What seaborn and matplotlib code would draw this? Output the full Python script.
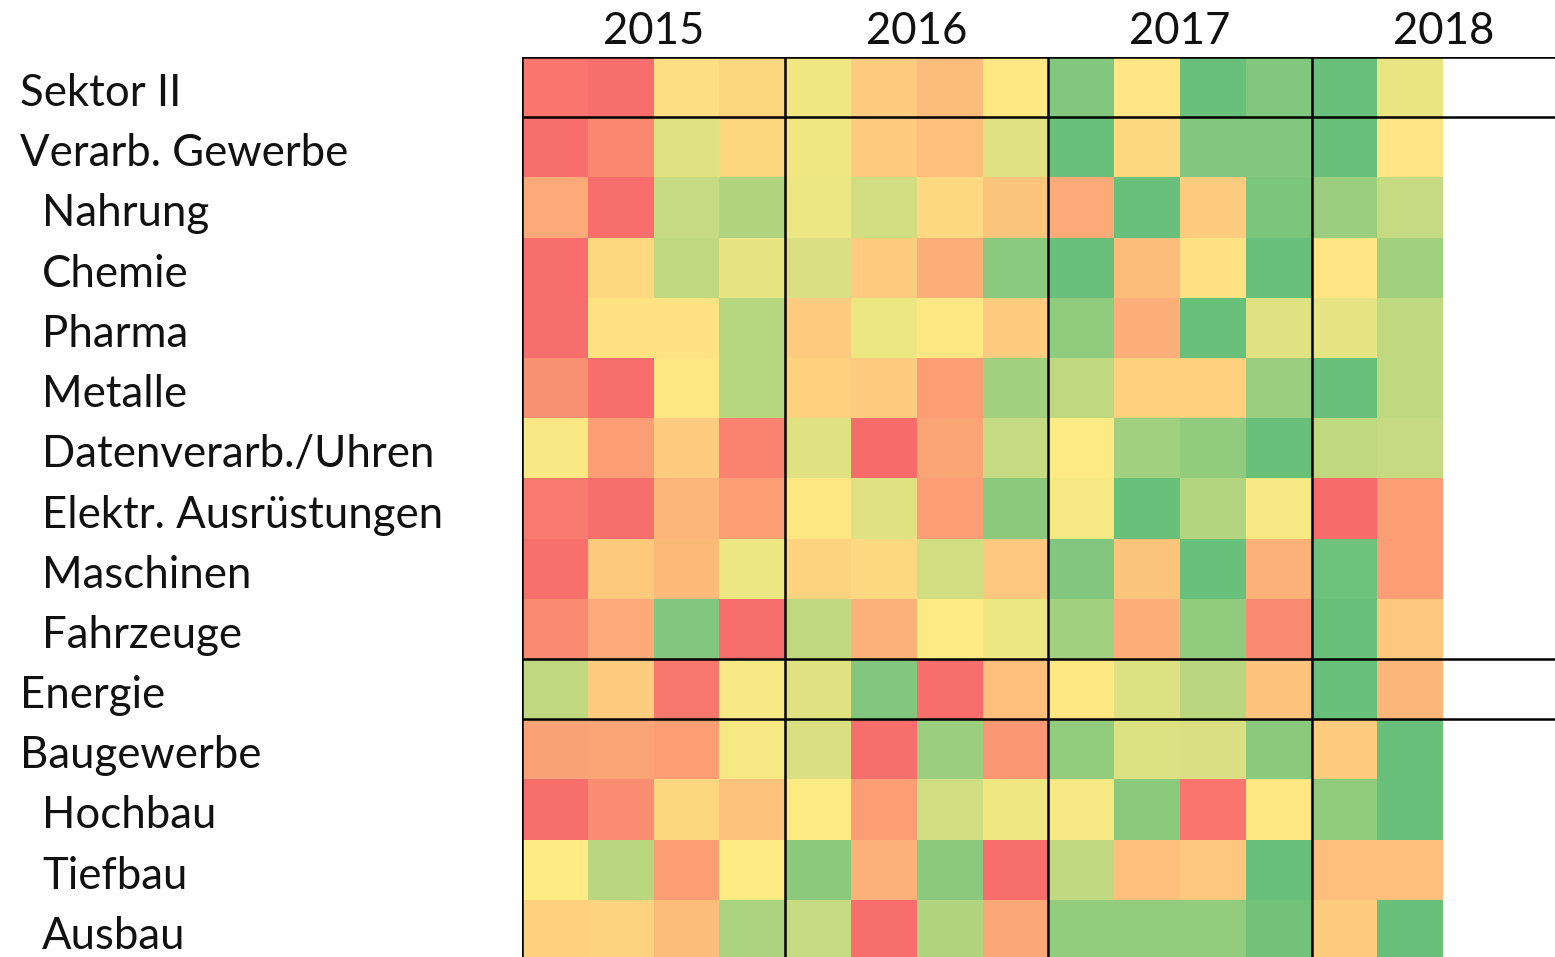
import numpy as np
import pandas as pd
import matplotlib
matplotlib.use("Agg")
import matplotlib.pyplot as plt
import matplotlib.transforms as mtransforms
from matplotlib.colors import LinearSegmentedColormap
import seaborn as sns

# rows and indentation (0 = sector, 1 = sub-branch)
sectors = ["Sektor II", "Verarb. Gewerbe", "Nahrung", "Chemie", "Pharma", "Metalle",
           "Datenverarb./Uhren", "Elektr. Ausrüstungen", "Maschinen", "Fahrzeuge",
           "Energie", "Baugewerbe", "Hochbau", "Tiefbau", "Ausbau"]
indent = [0, 0, 1, 1, 1, 1, 1, 1, 1, 1, 0, 0, 1, 1, 1]
years = ["2015", "2016", "2017", "2018"]
quarters = [f"{y}Q{q}" for y in years for q in range(1, 5)]

# relative scores (0 = red, 0.5 = yellow, 1 = green)
sektor_ii = [0.05, 0.02, 0.45, 0.42, 0.55, 0.38, 0.32, 0.49, 0.90, 0.48, 0.98, 0.90, 0.98, 0.57]
verarb = [0.02, 0.12, 0.60, 0.42, 0.55, 0.38, 0.33, 0.60, 0.98, 0.43, 0.90, 0.90, 0.98, 0.48]
nahrung = [0.25, 0.02, 0.68, 0.75, 0.56, 0.65, 0.43, 0.35, 0.25, 0.98, 0.38, 0.92, 0.82, 0.68]
chemie = [0.02, 0.43, 0.70, 0.58, 0.62, 0.38, 0.27, 0.88, 0.98, 0.32, 0.47, 0.98, 0.48, 0.80]
pharma = [0.02, 0.47, 0.47, 0.73, 0.38, 0.56, 0.49, 0.38, 0.85, 0.27, 0.98, 0.60, 0.58, 0.70]
metalle = [0.15, 0.02, 0.49, 0.73, 0.40, 0.38, 0.20, 0.80, 0.70, 0.40, 0.40, 0.82, 0.98, 0.70]
datenverarb = [0.52, 0.20, 0.38, 0.10, 0.60, 0.01, 0.23, 0.68, 0.51, 0.80, 0.85, 0.98, 0.70, 0.68]
elektr = [0.07, 0.02, 0.30, 0.20, 0.49, 0.60, 0.20, 0.87, 0.53, 0.98, 0.74, 0.53, 0.01, 0.20]
maschinen = [0.03, 0.37, 0.31, 0.56, 0.41, 0.43, 0.65, 0.36, 0.90, 0.35, 0.98, 0.28, 0.96, 0.20]
fahrzeuge = [0.13, 0.25, 0.90, 0.02, 0.70, 0.28, 0.51, 0.56, 0.80, 0.27, 0.85, 0.13, 0.98, 0.36]
energie = [0.70, 0.38, 0.06, 0.52, 0.60, 0.90, 0.02, 0.33, 0.49, 0.61, 0.72, 0.34, 0.98, 0.30]
baugewerbe = [0.22, 0.23, 0.20, 0.53, 0.62, 0.02, 0.82, 0.18, 0.84, 0.61, 0.62, 0.87, 0.38, 0.98]
hochbau = [0.02, 0.14, 0.42, 0.34, 0.51, 0.20, 0.65, 0.55, 0.53, 0.87, 0.05, 0.49, 0.85, 0.98]
tiefbau = [0.50, 0.72, 0.20, 0.50, 0.87, 0.28, 0.87, 0.02, 0.70, 0.33, 0.36, 0.98, 0.33, 0.33]
ausbau = [0.40, 0.41, 0.32, 0.77, 0.68, 0.02, 0.75, 0.24, 0.84, 0.84, 0.84, 0.95, 0.38, 0.98]

rows = [sektor_ii, verarb, nahrung, chemie, pharma, metalle, datenverarb, elektr,
        maschinen, fahrzeuge, energie, baugewerbe, hochbau, tiefbau, ausbau]
# 2018 Q3/Q4 not yet available
df = pd.DataFrame([r + [np.nan, np.nan] for r in rows], index=sectors, columns=quarters)

plt.rcParams['font.family'] = ['Lato', 'DejaVu Sans']
cmap = LinearSegmentedColormap.from_list("excel", ["#F8696B", "#FFEB84", "#63BE7B"])

W, H = 1555, 957
fig = plt.figure(figsize=(W / 100, H / 100), dpi=100)
ax = fig.add_axes([522 / W, -3 / H, 1033 / W, 903 / H])
sns.heatmap(df, cmap=cmap, vmin=0, vmax=1, cbar=False, ax=ax,
            xticklabels=False, yticklabels=False)
ax.set_xlim(0, 1033 / 65.8)
ax.set_ylim(len(sectors), 0)
ax.set_xlabel("")
ax.set_ylabel("")
ax.tick_params(left=False, bottom=False)

for x in [0, 4, 8, 12]:
    ax.axvline(x, color="black", lw=1.8)
for y in [0, 1, 10, 11]:
    ax.axhline(y, color="black", lw=1.8)

fs = 31.5
for i, y in enumerate(years):
    ax.text(4 * i + 2, -13 / 60.2, y, ha="center", va="baseline", fontsize=fs,
            color="#111111")

trans = mtransforms.blended_transform_factory(fig.transFigure, ax.transData)
for i, (name, ind) in enumerate(zip(sectors, indent)):
    xpos = (42 if ind else 20) / W
    ax.text(xpos, i + 0.5 + 19 / 60.2, name, transform=trans, ha="left",
            va="baseline", fontsize=fs, color="#111111")

fig.savefig("out.png", dpi=100)
